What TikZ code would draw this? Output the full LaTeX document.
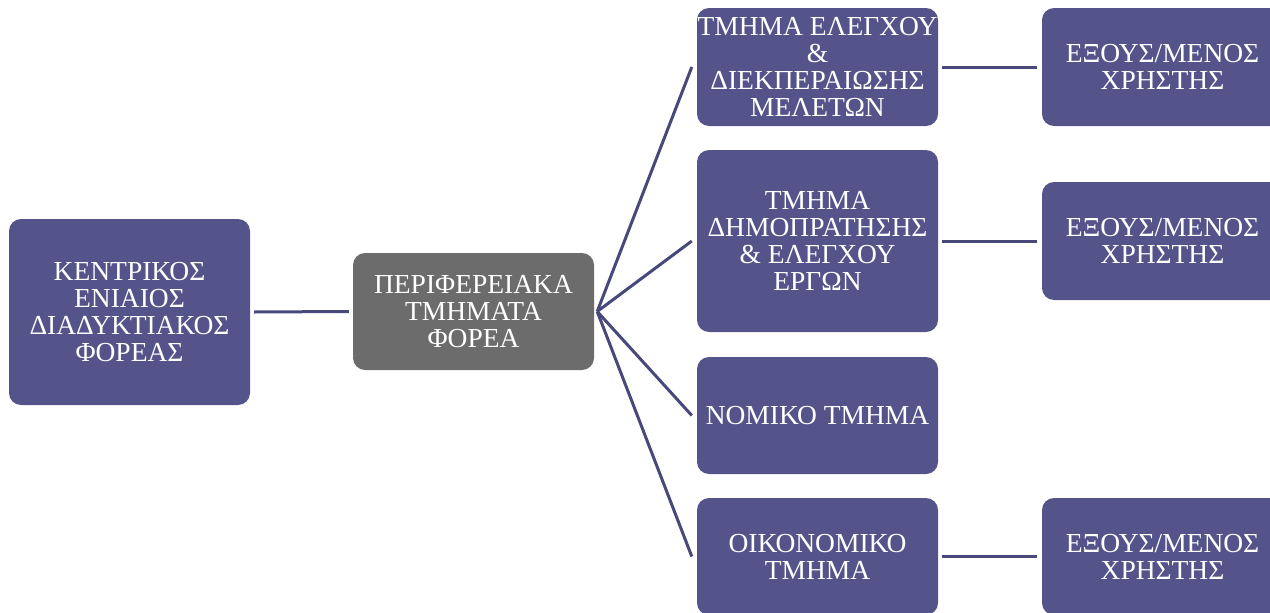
\documentclass[tikz,border=0pt]{standalone}
\usepackage{fontspec}
\setmainfont{Liberation Serif}
\definecolor{boxpurple}{RGB}{84,84,138}
\definecolor{boxgray}{RGB}{108,108,108}
\definecolor{linecol}{RGB}{72,72,122}
\begin{document}
\begin{tikzpicture}[x=1pt,y=-1pt,
  box/.style={rounded corners=12pt, fill=boxpurple, text=white, align=center,
    minimum width=241pt, inner sep=0pt, font=\fontsize{27.5}{27}\selectfont},
  graybox/.style={box, fill=boxgray},
  conn/.style={draw=linecol, line width=3pt}]
\useasboundingbox (0,0) rectangle (1270,613);
\clip (0,0) rectangle (1270,613);
\node[box, minimum height=186pt] (A) at (129.5,312) {ΚΕΝΤΡΙΚΟΣ\\ΕΝΙΑΙΟΣ\\ΔΙΑΔΥΚΤΙΑΚΟΣ\\ΦΟΡΕΑΣ};
\node[graybox, minimum height=117pt] (B) at (473.5,311.5) {ΠΕΡΙΦΕΡΕΙΑΚΑ\\ΤΜΗΜΑΤΑ\\ΦΟΡΕΑ};
\node[box, minimum height=118pt] (C1) at (817.5,67) {ΤΜΗΜΑ ΕΛΕΓΧΟΥ\\\&\\ΔΙΕΚΠΕΡΑΙΩΣΗΣ\\ΜΕΛΕΤΩΝ};
\node[box, minimum height=182pt] (C2) at (817.5,241) {ΤΜΗΜΑ\\ΔΗΜΟΠΡΑΤΗΣΗΣ\\\& ΕΛΕΓΧΟΥ\\ΕΡΓΩΝ};
\node[box, minimum height=117pt] (C3) at (817.5,415.5) {ΝΟΜΙΚΟ ΤΜΗΜΑ};
\node[box, minimum height=117pt] (C4) at (817.5,556.5) {ΟΙΚΟΝΟΜΙΚΟ\\ΤΜΗΜΑ};
\node[box, minimum height=118pt] (D1) at (1162.5,67) {ΕΞΟΥΣ/ΜΕΝΟΣ\\ΧΡΗΣΤΗΣ};
\node[box, minimum height=118pt] (D2) at (1162.5,241) {ΕΞΟΥΣ/ΜΕΝΟΣ\\ΧΡΗΣΤΗΣ};
\node[box, minimum height=117pt] (D4) at (1162.5,556.5) {ΕΞΟΥΣ/ΜΕΝΟΣ\\ΧΡΗΣΤΗΣ};
\draw[conn] ([xshift=4pt]A.east) -- ([xshift=-4pt]B.west);
\foreach \c in {C1,C2,C3,C4}
  \draw[conn] ([xshift=3pt]B.east) -- ([xshift=-5pt]\c.west);
\draw[conn] ([xshift=4pt]C1.east) -- ([xshift=-5pt]D1.west);
\draw[conn] ([xshift=4pt]C2.east) -- ([xshift=-5pt]D2.west);
\draw[conn] ([xshift=4pt]C4.east) -- ([xshift=-5pt]D4.west);
\end{tikzpicture}
\end{document}
